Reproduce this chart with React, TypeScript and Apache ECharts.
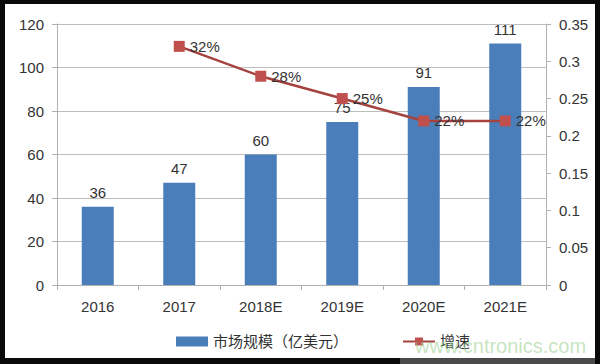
import React, { useEffect, useRef } from "react";
import * as echarts from "echarts";

const categories = ["2016", "2017", "2018E", "2019E", "2020E", "2021E"];
const marketSize = [36, 47, 60, 75, 91, 111];
const growthRate = [null, 0.32, 0.28, 0.25, 0.22, 0.22];
const barName = "市场规模（亿美元）";
const lineName = "增速";
const watermark = "www.cntronics.com";

const FONT = "'Liberation Sans', 'Noto Sans CJK SC', sans-serif";

export default function App() {
  const ref = useRef<HTMLDivElement>(null);
  useEffect(() => {
    if (!ref.current) return;
    const chart = echarts.init(ref.current, undefined, { renderer: "svg" });
    chart.setOption({
      animation: false,
      backgroundColor: "#ffffff",
      textStyle: { fontFamily: FONT },
      grid: { left: 52, right: 49, top: 20, bottom: 73, containLabel: false },
      legend: {
        left: 166,
        top: 325,
        itemWidth: 32,
        itemHeight: 10,
        itemGap: 54,
        textStyle: { fontSize: 15, color: "#333", fontFamily: FONT },
        data: [
          { name: barName, icon: "rect" },
          { name: lineName },
        ],
      },
      xAxis: {
        type: "category",
        data: categories,
        axisLine: { lineStyle: { color: "#b0b0b0", width: 1 } },
        axisTick: { show: true, length: 5, lineStyle: { color: "#b0b0b0" } },
        axisLabel: { fontSize: 15, color: "#333", margin: 14 },
      },
      yAxis: [
        {
          type: "value",
          min: 0,
          max: 120,
          interval: 20,
          axisLine: { show: true, lineStyle: { color: "#b0b0b0" } },
          axisTick: { show: true, length: 5, lineStyle: { color: "#b0b0b0" } },
          axisLabel: { fontSize: 15, color: "#333", margin: 13 },
          splitLine: { lineStyle: { color: "#bdbdbd", width: 1 } },
        },
        {
          type: "value",
          min: 0,
          max: 0.35,
          interval: 0.05,
          position: "right",
          axisLine: { show: true, lineStyle: { color: "#b0b0b0" } },
          axisTick: { show: true, length: 5, lineStyle: { color: "#b0b0b0" } },
          axisLabel: { fontSize: 15, color: "#333", margin: 13 },
          splitLine: { show: false },
        },
      ],
      series: [
        {
          name: barName,
          type: "bar",
          data: marketSize,
          barWidth: 32,
          itemStyle: { color: "#4a7ebb" },
          label: {
            show: true,
            position: "top",
            distance: 7,
            fontSize: 15,
            color: "#333",
          },
          z: 2,
        },
        {
          name: lineName,
          type: "line",
          yAxisIndex: 1,
          data: growthRate,
          symbol: "rect",
          symbolSize: 11,
          lineStyle: { color: "#a5423f", width: 2.5 },
          itemStyle: { color: "#c0504d" },
          label: {
            show: true,
            position: "right",
            distance: 5,
            fontSize: 15,
            color: "#333",
            formatter: (p: any) => Math.round(p.value * 100) + "%",
          },
          z: 3,
        },
      ],
      graphic: [
        {
          type: "text",
          left: 410,
          top: 332,
          z: 10,
          style: {
            text: watermark,
            fontSize: 20,
            fontFamily: "'Liberation Sans', Arial, sans-serif",
            fill: "rgba(150, 205, 140, 0.55)",
          },
        },
      ],
    });
    return () => chart.dispose();
  }, []);

  return (
    <div
      style={{
        position: "fixed",
        left: 0,
        top: 0,
        width: 600,
        height: 364,
        background: "#0a0a0a",
      }}
    >
      <div
        style={{
          position: "absolute",
          left: 400,
          top: 358,
          width: 195,
          height: 6,
          background: "#4a4a4a",
        }}
      />
      <div
        ref={ref}
        style={{ position: "absolute", left: 5, top: 4, width: 590, height: 354 }}
      />
    </div>
  );
}
